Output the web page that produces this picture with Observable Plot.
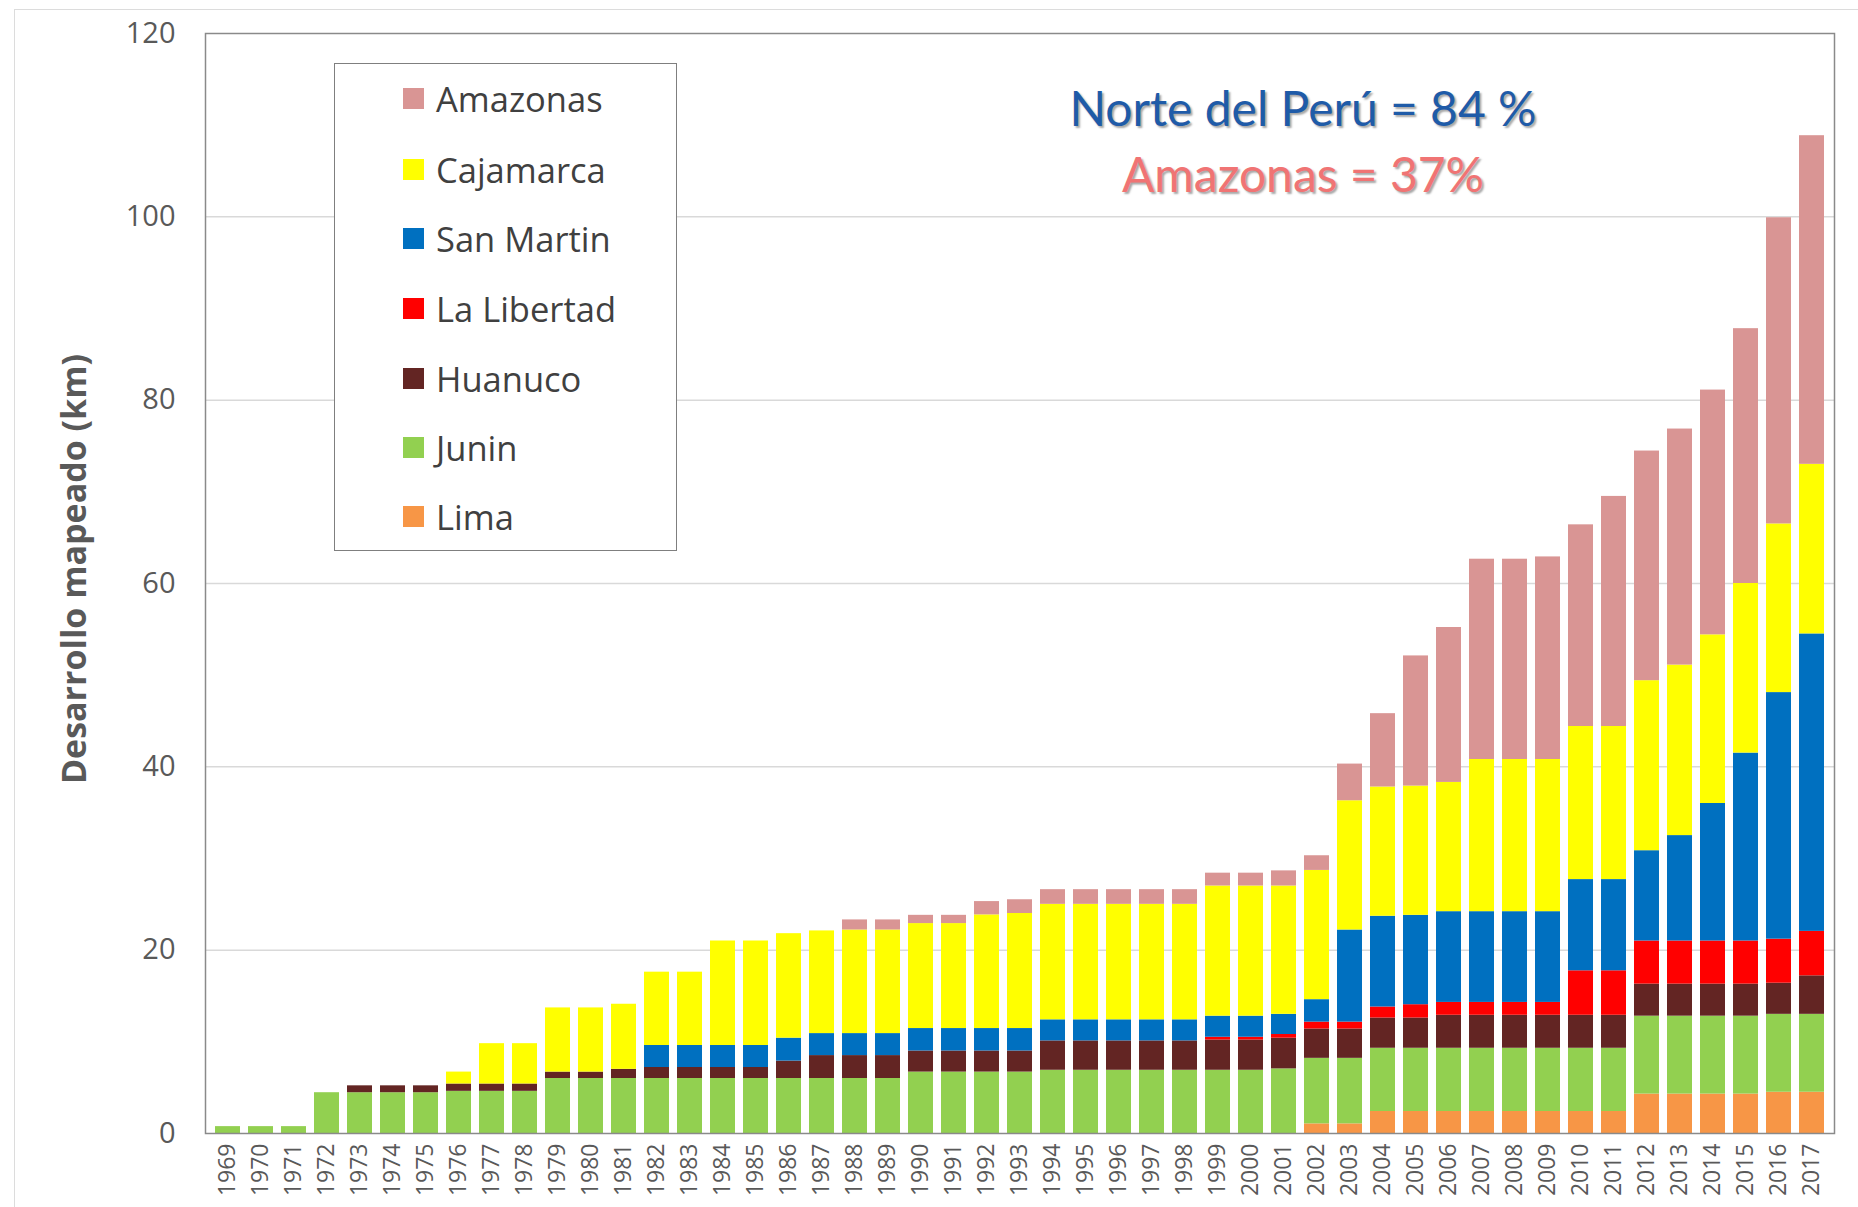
<!DOCTYPE html>
<html>
<head>
<meta charset="utf-8">
<script src="https://cdn.jsdelivr.net/npm/d3@7"></script>
<script src="https://cdn.jsdelivr.net/npm/@observablehq/plot@0.6"></script>
<style>
  html, body { margin: 0; padding: 0; background: #fff; }
  #wrap { position: relative; width: 1858px; height: 1207px; overflow: hidden; font-family: "Open Sans", sans-serif; }
  #outer { position: absolute; left: 14px; top: 9px; width: 1900px; height: 1300px; border: 1.5px solid #dcdcdc; }
  #chart { position: absolute; left: 0; top: 0; }
  #legend { position: absolute; left: 334px; top: 63px; width: 343px; height: 488px; border: 1.5px solid #7f7f7f; background: #fff; box-sizing: border-box; }
  .item { position: absolute; left: 68px; height: 40px; display: flex; align-items: center; font-size: 34.5px; color: #404040; }
  .sw { width: 21px; height: 21px; margin-right: 12px; }
  .note { position: absolute; left: 1303px; transform: translate(-50%, -50%); font-family: Lato, sans-serif; font-size: 48px; white-space: nowrap; text-shadow: 2px 2px 2px rgba(0,0,0,0.35); }
  #ylab { position: absolute; left: 73px; top: 569px; transform: translate(-50%, -50%) rotate(-90deg); font-size: 34px; font-weight: bold; color: #595959; white-space: nowrap; }
</style>
</head>
<body>
<div id="wrap">
  <div id="outer"></div>
  <div id="chart"></div>
  <div id="ylab">Desarrollo mapeado (km)</div>
  <div id="legend"></div>
  <div class="note" id="n1" style="top:107px; color:#1f5ba8;">Norte del Perú = 84 %</div>
  <div class="note" id="n2" style="top:173px; color:#f07474;">Amazonas = 37%</div>
</div>
<script>
const years = d3.range(1969, 2018).map(String);

const regions = ["Lima", "Junin", "Huanuco", "La Libertad", "San Martin", "Cajamarca", "Amazonas"];
const colors  = ["#f79646", "#92d050", "#632523", "#ff0000", "#0070c0", "#ffff00", "#d99594"];
const legendOrder = ["Amazonas", "Cajamarca", "San Martin", "La Libertad", "Huanuco", "Junin", "Lima"];

// values per year 1969..2017 (km)
const lima = [
  0,0,0,0,0,0,0,0,0,0,          // 1969-1978
  0,0,0,0,0,0,0,0,0,0,          // 1979-1988
  0,0,0,0,0,0,0,0,0,0,          // 1989-1998
  0,0,0,1.05,1.05,2.4,2.4,2.4,2.4,2.4, // 1999-2008
  2.4,2.4,2.4,4.3,4.3,4.3,4.3,4.5,4.5  // 2009-2017
];
const junin = [
  0.75,0.75,0.75,4.45,4.45,4.45,4.45,4.6,4.6,4.6,
  6.0,6.0,6.0,6.0,6.0,6.0,6.0,6.0,6.0,6.0,
  6.0,6.7,6.7,6.7,6.7,6.9,6.9,6.9,6.9,6.9,
  6.9,6.9,7.05,7.15,7.15,6.9,6.9,6.9,6.9,6.9,
  6.9,6.9,6.9,8.5,8.5,8.5,8.5,8.5,8.5
];
const huanuco = [
  0,0,0,0,0.75,0.75,0.75,0.8,0.8,0.8,
  0.7,0.7,1.0,1.2,1.2,1.2,1.2,1.9,2.5,2.5,
  2.5,2.3,2.3,2.3,2.3,3.2,3.2,3.2,3.2,3.2,
  3.3,3.3,3.35,3.2,3.2,3.3,3.3,3.6,3.6,3.6,
  3.6,3.6,3.6,3.5,3.5,3.5,3.5,3.4,4.2
];
const laLibertad = [
  0,0,0,0,0,0,0,0,0,0,
  0,0,0,0,0,0,0,0,0,0,
  0,0,0,0,0,0,0,0,0,0,
  0.3,0.3,0.4,0.75,0.75,1.2,1.45,1.4,1.4,1.4,
  1.4,4.85,4.85,4.7,4.7,4.7,4.7,4.8,4.85
];
const sanMartin = [
  0,0,0,0,0,0,0,0,0,0,
  0,0,0,2.4,2.4,2.4,2.4,2.5,2.4,2.4,
  2.4,2.45,2.45,2.45,2.45,2.3,2.3,2.3,2.3,2.3,
  2.3,2.3,2.2,2.45,10.05,9.9,9.75,9.9,9.9,9.9,
  9.9,9.95,9.95,9.85,11.5,15.0,20.5,26.9,32.45
];
const cajamarca = [
  0,0,0,0,0,0,0,1.3,4.4,4.4,
  7.0,7.0,7.1,8.0,8.0,11.4,11.4,11.4,11.2,11.3,
  11.3,11.45,11.45,12.4,12.55,12.6,12.6,12.6,12.6,12.6,
  14.2,14.2,14.0,14.1,14.1,14.1,14.1,14.1,16.6,16.6,
  16.6,16.7,16.7,18.55,18.6,18.4,18.5,18.4,18.5
];
const amazonas = [
  0,0,0,0,0,0,0,0,0,0,
  0,0,0,0,0,0,0,0,0,1.1,
  1.1,0.9,0.9,1.45,1.5,1.6,1.6,1.6,1.6,1.6,
  1.4,1.4,1.65,1.6,4.0,8.0,14.2,16.9,21.85,21.85,
  22.1,22.0,25.1,25.05,25.75,26.7,27.8,33.4,35.85
];

const series = [lima, junin, huanuco, laLibertad, sanMartin, cajamarca, amazonas];
const rows = [];
years.forEach((yr, i) => {
  series.forEach((s, k) => { rows.push({year: yr, region: regions[k], value: s[i]}); });
});

const yTicks = [0, 20, 40, 60, 80, 100, 120];

const chart = Plot.plot({
  width: 1858,
  height: 1207,
  marginLeft: 205,
  marginRight: 24,
  marginTop: 33,
  marginBottom: 74,
  style: {fontFamily: "Open Sans, sans-serif", background: "transparent"},
  x: {domain: years, paddingInner: 0.25, paddingOuter: 0.125, label: null},
  y: {domain: [0, 120], label: null},
  color: {domain: regions, range: colors},
  marks: [
    Plot.gridY({ticks: yTicks.slice(1, -1), stroke: "#d9d9d9", strokeOpacity: 1, strokeWidth: 1.5}),
    Plot.barY(rows, {x: "year", y: "value", fill: "region"}),
    Plot.frame({stroke: "#8a8a8a", strokeWidth: 1.5}),
    Plot.axisY({ticks: yTicks, tickSize: 0, tickPadding: 30, fontSize: 29, fill: "#595959", label: null}),
    Plot.axisX({tickSize: 0, tickRotate: -90, tickPadding: 10, fontSize: 23, fill: "#595959", label: null})
  ]
});
document.getElementById("chart").appendChild(chart);

const legend = document.getElementById("legend");
const rowTops = [97, 168, 237, 307, 377, 446, 515];
legendOrder.forEach((name, i) => {
  const it = document.createElement("div");
  it.className = "item";
  it.style.top = (rowTops[i] - 63 - 20) + "px";
  const sw = document.createElement("div");
  sw.className = "sw";
  sw.style.background = colors[regions.indexOf(name)];
  const tx = document.createElement("span");
  tx.textContent = name;
  it.appendChild(sw); it.appendChild(tx);
  legend.appendChild(it);
});
</script>
</body>
</html>
